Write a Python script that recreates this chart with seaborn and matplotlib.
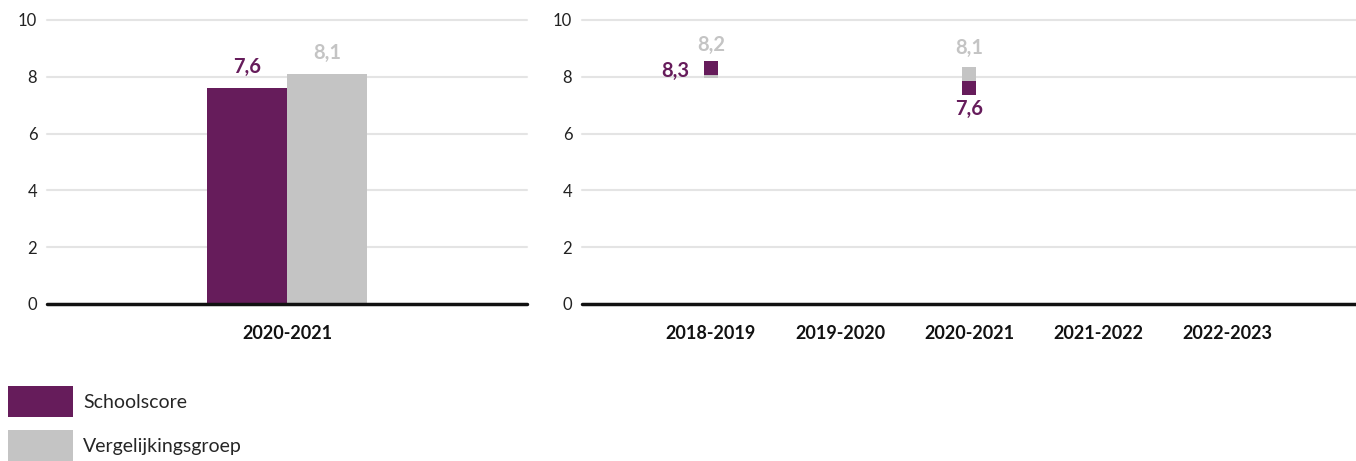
import numpy as np
import pandas as pd
import matplotlib.pyplot as plt
import seaborn as sns
from matplotlib.patches import Patch

# Data
jaar_links = ["2020-2021"]
school_links = [7.6]
vergelijk_links = [8.1]

jaren = ["2018-2019", "2019-2020", "2020-2021", "2021-2022", "2022-2023"]
school_trend = [8.3, np.nan, 7.6, np.nan, np.nan]
vergelijk_trend = [8.2, np.nan, 8.1, np.nan, np.nan]

groepen = ["Schoolscore", "Vergelijkingsgroep"]
kleuren = {"Schoolscore": "#661c5b", "Vergelijkingsgroep": "#c4c4c4"}

sns.set_style("white")
plt.rcParams["font.family"] = ["Lato", "DejaVu Sans"]


def komma(v):
    return f"{v:.1f}".replace(".", ",")


def opmaak(ax):
    ax.set_ylim(0, 10)
    ax.set_yticks([0, 2, 4, 6, 8, 10])
    for y in [2, 4, 6, 8, 10]:
        ax.axhline(y, color="#e4e4e4", lw=1.5, zorder=0, clip_on=False)
    ax.axhline(0, color="#111111", lw=2.5, zorder=5, clip_on=False)
    sns.despine(ax=ax, left=True, bottom=True, top=True, right=True)
    ax.tick_params(axis="both", length=0)
    ax.tick_params(axis="y", labelsize=12, pad=7, colors="#222222")
    ax.tick_params(axis="x", labelsize=13, pad=15, colors="#111111")
    for lbl in ax.get_xticklabels():
        lbl.set_fontweight("bold")
    ax.set_xlabel("")
    ax.set_ylabel("")


fig = plt.figure(figsize=(13.56, 4.61), dpi=100)
ax1 = fig.add_axes([47 / 1356, 157 / 461, 480 / 1356, 284 / 461])
ax2 = fig.add_axes([582 / 1356, 157 / 461, 774 / 1356, 284 / 461])

# Linker paneel: staafdiagram
df_links = pd.DataFrame({
    "jaar": jaar_links * 2,
    "score": school_links + vergelijk_links,
    "groep": ["Schoolscore"] * len(jaar_links) + ["Vergelijkingsgroep"] * len(jaar_links),
})
sns.barplot(data=df_links, x="jaar", y="score", hue="groep", hue_order=groepen,
            palette=kleuren, width=1.0, saturation=1, legend=False, ax=ax1,
            linewidth=0, zorder=3)
ax1.set_xlim(-1.5, 1.5)
for cont, g in zip(ax1.containers, groepen):
    ax1.bar_label(cont, labels=[komma(v) for v in cont.datavalues], padding=8,
                  color=kleuren[g], fontsize=14.5, fontweight="bold")
opmaak(ax1)

# Rechter paneel: trend met vierkante markers
df_rechts = pd.DataFrame({
    "jaar": jaren * 2,
    "score": vergelijk_trend + school_trend,
    "groep": ["Vergelijkingsgroep"] * len(jaren) + ["Schoolscore"] * len(jaren),
})
for g in ["Vergelijkingsgroep", "Schoolscore"]:
    sub = df_rechts[df_rechts["groep"] == g]
    sns.stripplot(data=sub, x="jaar", y="score", order=jaren, color=kleuren[g],
                  marker="s", size=10, jitter=False, linewidth=0, ax=ax2, zorder=4)
ax2.set_xlim(-1, 5)

for i, (s, v) in enumerate(zip(school_trend, vergelijk_trend)):
    if np.isnan(s):
        continue
    ax2.annotate(komma(v), (i, v), xytext=(0, 19), textcoords="offset points",
                 ha="center", va="center", color=kleuren["Vergelijkingsgroep"],
                 fontsize=14.5, fontweight="bold")
    if s >= v:
        ax2.annotate(komma(s), (i, s), xytext=(-26, -2), textcoords="offset points",
                     ha="center", va="center", color=kleuren["Schoolscore"],
                     fontsize=14.5, fontweight="bold")
    else:
        ax2.annotate(komma(s), (i, s), xytext=(0, -15), textcoords="offset points",
                     ha="center", va="center", color=kleuren["Schoolscore"],
                     fontsize=14.5, fontweight="bold")
opmaak(ax2)

# Legenda
handles = [Patch(facecolor=kleuren[g], edgecolor="none", label=g) for g in groepen]
fig.legend(handles=handles, loc="lower left", bbox_to_anchor=(8 / 1356, 0),
           frameon=False, fontsize=14, handlelength=3.35, handleheight=2.08,
           labelspacing=0.67, handletextpad=0.5, borderaxespad=0, borderpad=0)

fig.savefig("out.png", dpi=100)
